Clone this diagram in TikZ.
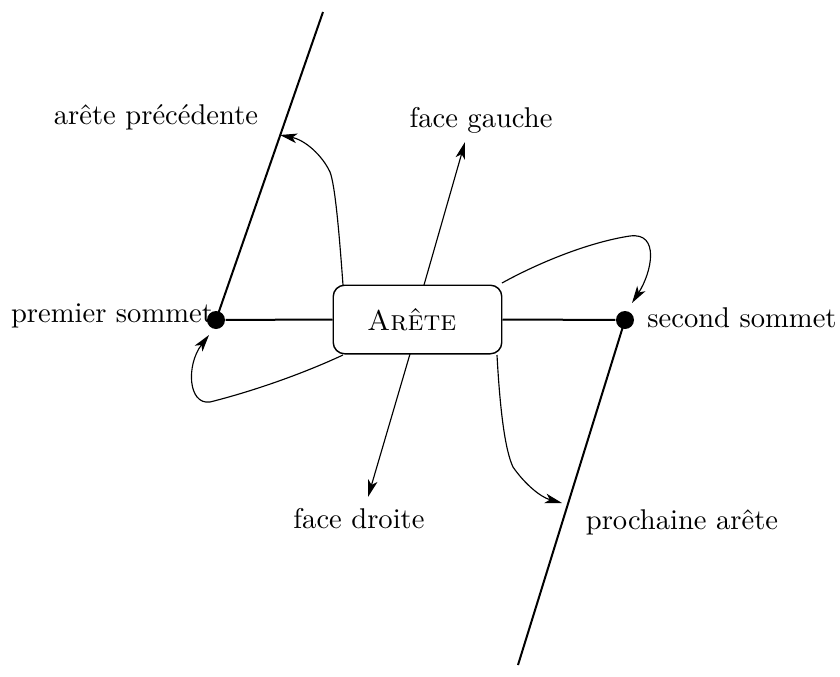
\documentclass[tikz,border=0pt]{standalone}
\usetikzlibrary{arrows.meta}
\begin{document}
\begin{tikzpicture}[x=0.35pt,y=-0.35pt,
  mainline/.style={line width=0.7pt},
  arrowline/.style={line width=0.4pt,-{Stealth[length=6pt,width=3.4pt,inset=1.6pt]}},
  vertexdot/.style={circle,fill=black,inner sep=0pt,minimum size=6.3pt},
  edgebox/.style={draw,line width=0.5pt,rounded corners=4pt,minimum width=59pt,minimum height=24pt,inner sep=0pt},
  lbl/.style={inner sep=0pt,font=\normalsize}]
\useasboundingbox (0,0) rectangle (840,677);
% vertices
\node[vertexdot] (p1) at (216,320) {};
\node[vertexdot] (p2) at (625,320) {};
\coordinate (ltop) at (323,12);
\coordinate (rbot) at (518,665);
% box
\node[edgebox] (box) at (417.5,319.5) {\hspace*{-4pt}\textsc{Arête}};
% labels
\node[lbl] (lprev) at (156,117) {arête précédente};
\node[lbl] (lfg) at (481,120) {face gauche};
\node[lbl] (lfd) at (359,519) {face droite};
\node[lbl] (lnext) at (682,522) {prochaine arête};
\node[lbl] (lp1) at (112,316) {premier sommet};
\node[lbl] (lp2) at (742,318) {second sommet};
% main lines
\draw[mainline] (ltop) -- (p1.center);
\draw[mainline] (p2.center) -- (rbot);
\draw[mainline] (p1) -- (box.west);
\draw[mainline] (box.east) -- (p2);
% arrow endpoints
\coordinate (fgs) at (424,285);
\coordinate (fge) at (465,142);
\coordinate (fds) at (410,354);
\coordinate (fde) at (368,497);
\coordinate (aps) at (343,285);
\coordinate (ape) at (280,135);
\coordinate (lls) at (343,355);
\coordinate (lle) at (209,335);
\coordinate (urs) at (502,283);
\coordinate (ure) at (632,303);
\coordinate (lrs) at (497,355);
\coordinate (lre) at (562,503);
% arrows
\draw[arrowline] (fgs) -- (fge);
\draw[arrowline] (fds) -- (fde);
\draw[arrowline] (aps) .. controls (339,230) and (335,185) .. (330,172)
   .. controls (322,155) and (305,140) .. (ape);
\draw[arrowline] (lls) .. controls (300,375) and (250,392) .. (210,402)
   .. controls (188,405) and (186,365) .. (lle);
\draw[arrowline] (urs) .. controls (540,262) and (590,242) .. (630,236)
   .. controls (660,232) and (652,272) .. (ure);
\draw[arrowline] (lrs) .. controls (500,410) and (505,450) .. (513,467)
   .. controls (524,483) and (540,497) .. (lre);
\end{tikzpicture}
\end{document}
